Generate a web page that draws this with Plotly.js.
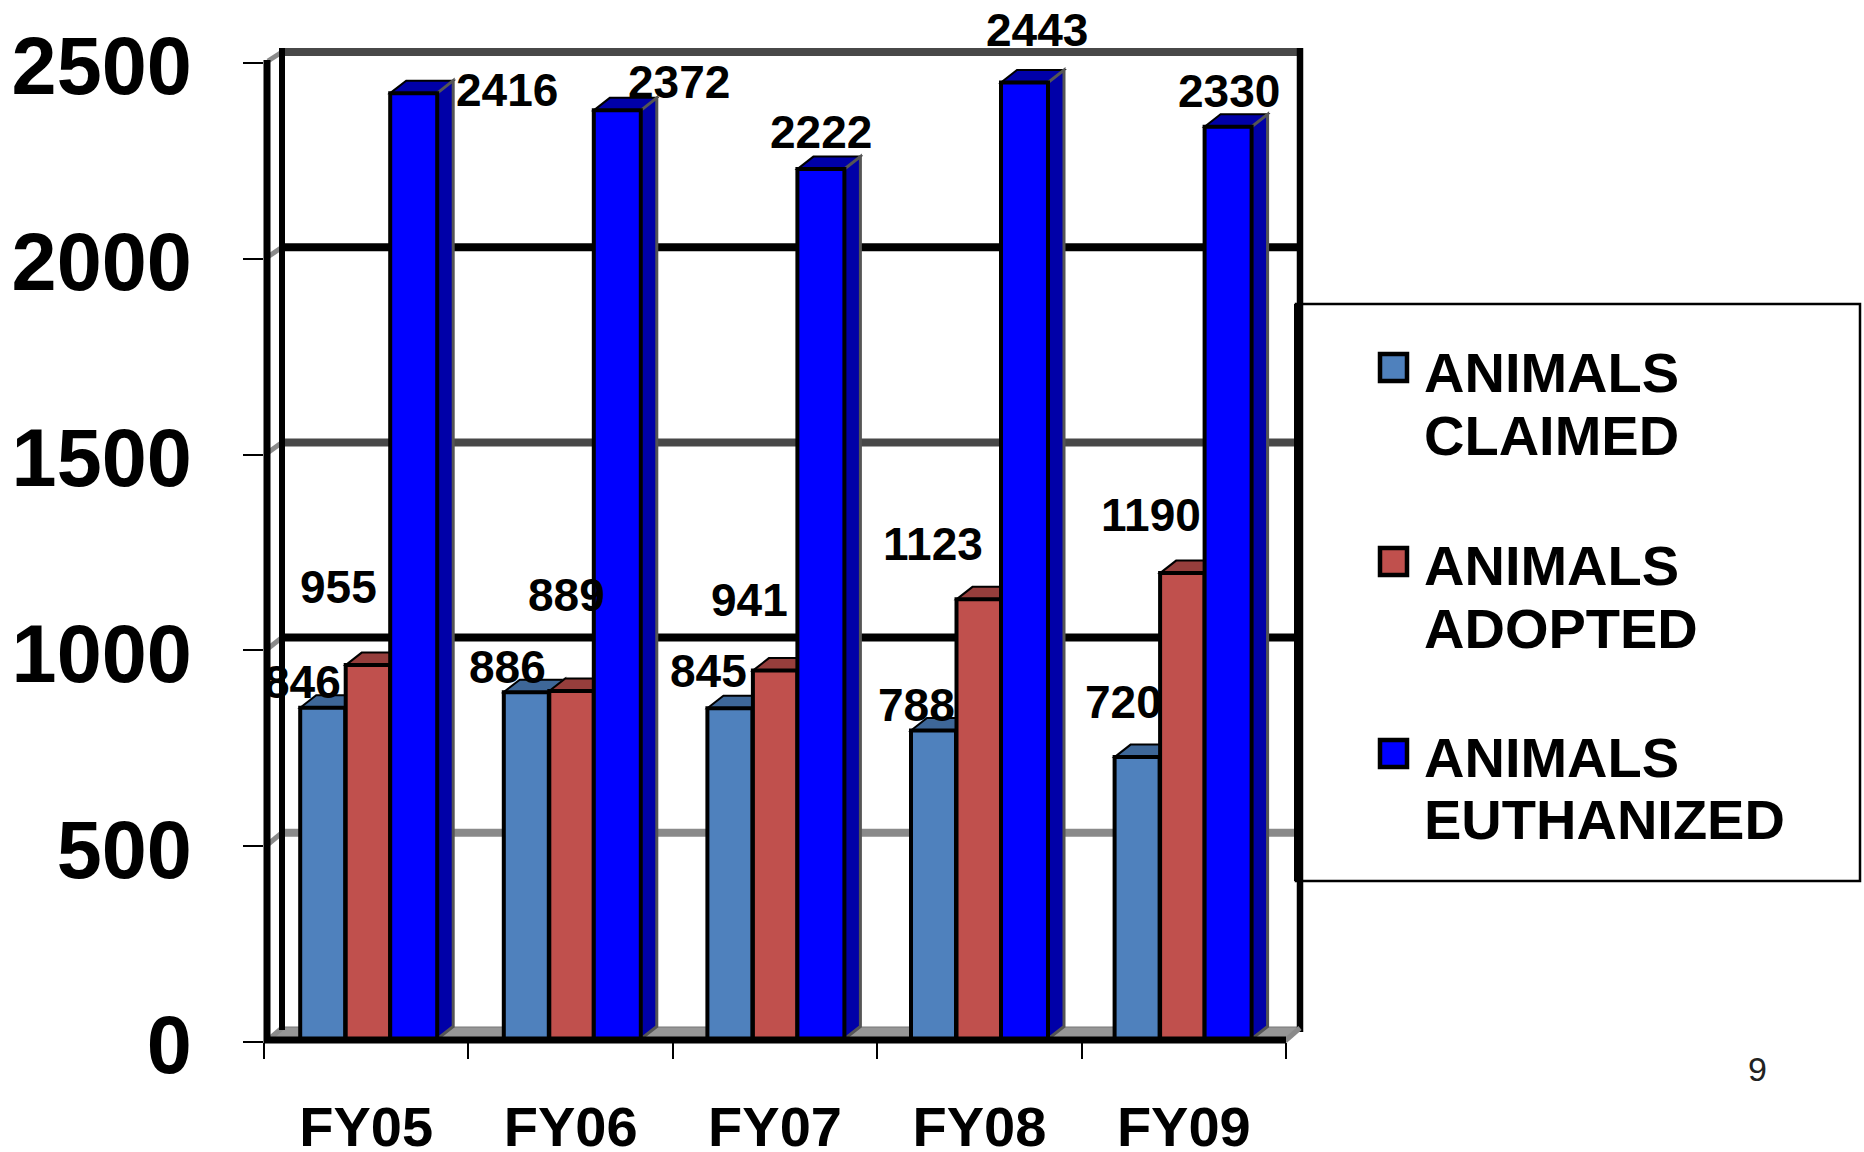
<!DOCTYPE html>
<html>
<head>
<meta charset="utf-8">
<script src="https://cdn.plot.ly/plotly-3.0.1.min.js"></script>
<style>html,body{margin:0;padding:0;background:#fff}#chart{width:1864px;height:1152px}</style>
</head>
<body>
<div id="chart"></div>
<script>
// ---- data ----
const categories = ['FY05', 'FY06', 'FY07', 'FY08', 'FY09'];
const animalsClaimed = [846, 886, 845, 788, 720];
const animalsAdopted = [955, 889, 941, 1123, 1190];
const animalsEuthanized = [2416, 2372, 2222, 2443, 2330];
const yTicks = [0, 500, 1000, 1500, 2000, 2500];
const seriesNames = [['ANIMALS', 'CLAIMED'], ['ANIMALS', 'ADOPTED'], ['ANIMALS', 'EUTHANIZED']];
const pageNumber = '9';

// ---- label nudges (px, relative to the top centre of each bar) ----
const claimedShiftX = [-20, -20, -23, -19, -17];
const claimedShiftY = [26, 25, 37, 26, 55];
const adoptedShiftX = [-29, -6, -27, -48, -35];
const adoptedShiftY = [78, 96, 71, 55, 58];
const euthanizedShiftX = [93, 61, -2, 10, -2];
const euthanizedShiftY = [3, 28, 37, 53, 36];

// ---- frame geometry ----
const L = 264, R = 1286, T = 63, B = 1042, W = 1864, H = 1152;
const unit = (R - L) / categories.length;   // px per category
const barScale = 0.3915;                    // px per value on the bar axis
const barZeroPx = 1039;
const drift = -0.8;                         // bars step slightly less than the ticks (px per group)
const px = p => (p - L) / (R - L);
const py = p => (B - p) / (B - T);
const dx = 16 / unit, dy = 12.5 / barScale;
const FONT = '"Liberation Sans", Arial, sans-serif';

const seriesStyle = [
  {values: animalsClaimed, color: '#4F81BD', dark: '#3E6798', off: -66, w: 45, sx: claimedShiftX, sy: claimedShiftY},
  {values: animalsAdopted, color: '#C0504D', dark: '#963E3C', off: -20.5, w: 44.5, sx: adoptedShiftX, sy: adoptedShiftY},
  {values: animalsEuthanized, color: '#0000FF', dark: '#0000A8', off: 24, w: 47, sx: euthanizedShiftX, sy: euthanizedShiftY}
];
const barLeft = (s, i) => i + (s.off + drift * i) / unit;

const traces = seriesStyle.map((s, k) => ({
  type: 'bar', name: seriesNames[k].join(' '), x: categories, y: s.values,
  offset: s.values.map((v, i) => (s.off + drift * i) / unit), width: s.w / unit,
  marker: {color: s.color, line: {color: '#000', width: 4}},
  showlegend: false, cliponaxis: false
}));
// keeps the value axis (ticks and labels) alive
traces.push({type: 'scatter', mode: 'none', x: [categories[0]], y: [0], yaxis: 'y2', xaxis: 'x', showlegend: false, hoverinfo: 'skip'});

const shapes = [];
const line = (x0, y0, x1, y1, color, width, layer) => shapes.push({
  type: 'line', xref: 'paper', yref: 'paper', x0: px(x0), y0: py(y0), x1: px(x1), y1: py(y1),
  line: {color, width}, layer: layer || 'below'
});
const wallY = v => 1028 - v * 0.3904;
const frontY = v => B - v * (B - T) / 2500;
const gridColors = ['#000', '#8A8A8A', '#000', '#484848', '#000', '#484848'];

// floor
shapes.push({type: 'path', xref: 'paper', yref: 'paper', layer: 'below', fillcolor: '#969696', line: {color: '#777', width: 1},
  path: `M${px(267)},${py(1040)} L${px(282)},${py(1027)} L${px(1300)},${py(1027)} L${px(1285)},${py(1040)} Z`});
// back wall grid lines and side connectors
yTicks.forEach((v, i) => {
  if (v > 0) line(282, wallY(v), 1300, wallY(v), gridColors[i], 8);
  line(268, frontY(v) - 2, 282, wallY(v), '#8A8A8A', 5);
});
line(282, 48, 282, 1030, '#000', 6);
line(1300, 48, 1300, 1032, '#000', 6.5);
line(267, 60, 267, 1043, '#000', 7);
line(1285, 1041, 1300, 1028, '#8A8A8A', 5);

// 3D faces, derived from the data
seriesStyle.forEach(s => {
  s.values.forEach((v, i) => {
    const x0 = barLeft(s, i), x1 = x0 + s.w / unit;
    shapes.push({type: 'path', xref: 'x', yref: 'y', layer: 'below', fillcolor: s.dark, line: {color: '#000', width: 2},
      path: `M${x0},${v} L${x0 + dx},${v + dy} L${x1 + dx},${v + dy} L${x1},${v} Z`});
    shapes.push({type: 'path', xref: 'x', yref: 'y', layer: 'below', fillcolor: s.dark, line: {color: '#555', width: 3},
      path: `M${x1},0 L${x1 + dx},${dy} L${x1 + dx},${v + dy} L${x1},${v} Z`});
  });
});

// front x axis line (over the bars' feet)
line(264, 1040, 1286, 1040, '#000', 7, 'above');

// legend box and swatches
shapes.push({type: 'rect', xref: 'paper', yref: 'paper', layer: 'above', x0: px(1296), x1: px(1860), y0: py(304), y1: py(881),
  line: {color: '#000', width: 2.5}});
line(1298, 304, 1298, 881, '#000', 8, 'above');
const swatchTop = [352, 546, 738];
seriesStyle.forEach((s, k) => shapes.push({type: 'rect', xref: 'paper', yref: 'paper', layer: 'above',
  x0: px(1380), x1: px(1407), y0: py(swatchTop[k] + 2), y1: py(swatchTop[k] + 29),
  fillcolor: s.color, line: {color: '#000', width: 4.5}}));

const annotations = [];
// data labels
seriesStyle.forEach(s => s.values.forEach((v, i) => annotations.push({
  x: i, y: v, xref: 'x', yref: 'y', text: String(v), showarrow: false, xanchor: 'center', yanchor: 'middle',
  xshift: s.off + s.w / 2 + s.sx[i], yshift: s.sy[i],
  font: {family: FONT, size: 46, color: '#000', weight: 700}
})));
// legend text
const legendCentres = [[372, 435], [565, 628], [757, 819]];
seriesNames.forEach((lines, k) => lines.forEach((t, j) => annotations.push({
  xref: 'paper', yref: 'paper', x: px(1422), y: py(legendCentres[k][j]), text: t, showarrow: false,
  xanchor: 'left', yanchor: 'middle', font: {family: FONT, size: 56, color: '#000', weight: 700}
})));
// page number
annotations.push({xref: 'paper', yref: 'paper', x: px(1757), y: py(1069), text: pageNumber, showarrow: false,
  xanchor: 'center', yanchor: 'middle', font: {family: FONT, size: 34, color: '#222'}});

const layout = {
  width: W, height: H, autosize: false,
  margin: {l: L, r: W - R, t: T, b: H - B, pad: 0},
  paper_bgcolor: '#fff', plot_bgcolor: 'rgba(0,0,0,0)',
  showlegend: false, barmode: 'group',
  xaxis: {type: 'category', categoryorder: 'array', categoryarray: categories, range: [-0.5, 4.5], tickson: 'boundaries',
    ticks: 'outside', ticklen: 16, tickwidth: 2, tickcolor: '#000', showline: false, showgrid: false, zeroline: false,
    ticklabelstandoff: 47, tickangle: 0, tickfont: {family: FONT, size: 56, color: '#000', weight: 700}},
  yaxis: {visible: false, range: [(barZeroPx - B) / barScale, (barZeroPx - T) / barScale], showgrid: false, zeroline: false},
  yaxis2: {overlaying: 'y', side: 'left', anchor: 'x', range: [0, 2500], tickmode: 'array', tickvals: yTicks,
    ticktext: yTicks.map(String), ticks: 'outside', ticklen: 20, tickwidth: 2, tickcolor: '#000',
    showline: false, showgrid: false, zeroline: false, ticklabelstandoff: 35, ticklabelshift: 3,
    tickfont: {family: FONT, size: 81, color: '#000', weight: 700}},
  shapes, annotations,
  hovermode: false
};
Plotly.newPlot('chart', traces, layout, {displayModeBar: false, staticPlot: true});
</script>
</body>
</html>
